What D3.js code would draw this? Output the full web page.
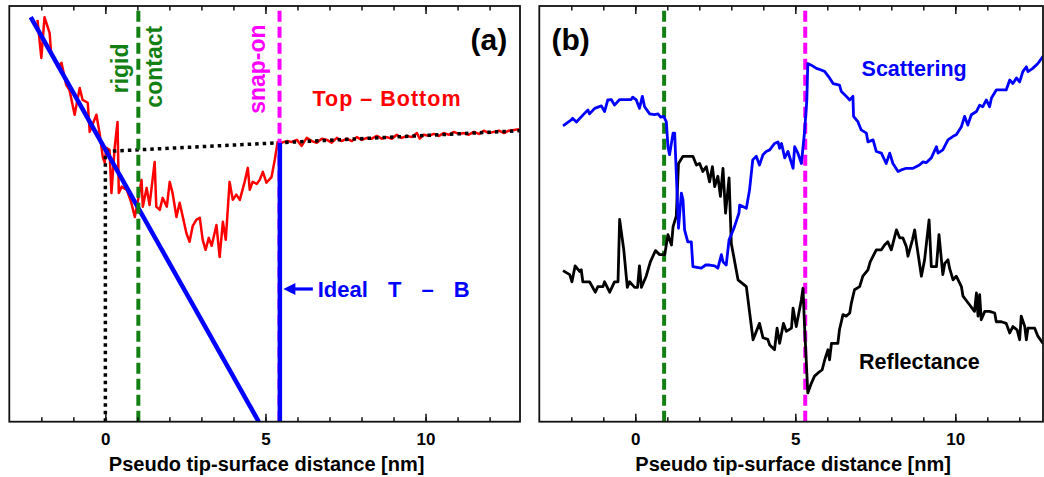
<!DOCTYPE html>
<html>
<head>
<meta charset="utf-8">
<script src="https://cdn.jsdelivr.net/npm/d3@7"></script>
<style>
  html, body { margin: 0; padding: 0; background: #fff; }
  svg { display: block; }
  text { font-family: "Liberation Sans", Arial, Helvetica, sans-serif; font-weight: bold; }
</style>
</head>
<body>
<svg id="chart" width="1044" height="477"></svg>
<script>
// ---- Panel (a): Top - Bottom signal vs. pseudo tip-surface distance (a.u.) ----
const distA = [-2.12, -2.00, -1.90, -1.74, -1.69, -1.58, -1.49, -1.37, -1.22, -1.12, -0.96, -0.80, -0.71, -0.55,
  -0.49, -0.28, -0.18, -0.08, -0.02, 0.03, 0.13, 0.19, 0.29, 0.38, 0.42, 0.51, 0.67, 0.81, 0.92, 1.01, 1.13,
  1.17, 1.29, 1.38, 1.54, 1.59, 1.70, 1.79, 1.92, 2.01, 2.10, 2.22, 2.32, 2.42, 2.53, 2.63, 2.73, 2.84, 2.95,
  3.04, 3.13, 3.23, 3.32, 3.47, 3.57, 3.67, 3.76, 3.88, 3.98, 4.09, 4.20, 4.35, 4.45, 4.51, 4.60, 4.73, 4.82,
  4.92, 5.03, 5.19, 5.29, 5.38, 5.50, 5.67, 5.82, 5.98, 6.13, 6.29, 6.45, 6.60, 6.76, 6.92, 7.07, 7.23, 7.38,
  7.54, 7.70, 7.85, 8.01, 8.17, 8.32, 8.48, 8.63, 8.79, 8.95, 9.10, 9.26, 9.42, 9.57, 9.73, 9.82, 9.95, 10.10,
  10.26, 10.42, 10.57, 10.73, 10.88, 11.04, 11.20, 11.35, 11.51, 11.67, 11.82, 11.98, 12.13, 12.29, 12.45,
  12.60, 12.76, 12.92];
const topMinusBottom = [50.25, 45.5, 50.6, 48.6, 45.9, 45.25, 44.4, 44.9, 42.1, 41.5, 38.4, 41.75, 40.25, 39.9,
  36.25, 38.4, 36.1, 33.1, 32.4, 34.25, 34.0, 28.6, 34.25, 37.5, 28.6, 29.4, 29.0, 27.4, 25.6, 27.5, 30.25,
  26.9, 29.25, 27.1, 32.5, 26.9, 26.5, 28.0, 26.9, 30.0, 28.6, 25.6, 27.4, 25.6, 23.6, 22.5, 24.5, 25.25, 25.5,
  22.75, 21.5, 23.0, 22.0, 24.6, 20.6, 25.0, 22.75, 30.0, 27.75, 28.4, 27.75, 30.0, 31.75, 29.0, 30.0, 29.75,
  30.25, 31.25, 29.9, 30.6, 32.75, 35.0, 34.9, 35.1, 35.0, 35.25, 34.5, 35.5, 35.1, 34.9, 35.4, 35.25, 34.9,
  35.5, 35.1, 35.4, 35.1, 35.6, 35.25, 35.5, 35.4, 35.75, 35.4, 35.6, 35.4, 35.9, 35.5, 35.75, 35.6, 36.1,
  35.4, 35.9, 35.75, 36.0, 35.75, 36.1, 35.9, 36.25, 36.0, 36.1, 35.9, 36.25, 36.0, 36.4, 36.1, 36.25, 36.4,
  36.1, 36.4, 36.5, 36.6];

// Ideal T - B: linear contact branch and the jump at snap-on
const idealContactDist = [-2.33, 4.79];
const idealContactSignal = [50.6, 0];
const idealSnapDist = [5.45, 5.45];
const idealSnapSignal = [0, 34.9];

// Dotted guides: extrapolated free baseline and zero-distance marker
const baselineDist = [0, 12.95];
const baselineSignal = [33.8, 36.4];
const zeroDist = [0, 0];
const zeroSignal = [0, 33.8];

// Event positions
const rigidContactA = 1.03, snapOnA = 5.44;
const rigidContactB = 0.9, snapOnB = 5.31;

// ---- Panel (b): optical signals (a.u.) ----
const scatDist = [-2.26, -2.00, -1.96, -1.84, -1.58, -1.48, -1.43, -1.27, -1.06, -0.96, -0.86, -0.75, -0.65,
  -0.49, -0.13, -0.08, 0.03, 0.13, 0.22, 0.29, 0.45, 0.60, 0.71, 0.79, 0.89, 0.97, 1.02, 1.07, 1.18, 1.23,
  1.35, 1.44, 1.49, 1.54, 1.64, 1.75, 1.80, 2.06, 2.20, 2.32, 2.48, 2.58, 2.69, 2.74, 2.84, 2.93, 3.00, 3.10,
  3.24, 3.26, 3.47, 3.57, 3.67, 3.78, 3.88, 3.99, 4.09, 4.20, 4.35, 4.46, 4.51, 4.57, 4.67, 4.77, 4.93, 4.98,
  5.08, 5.19, 5.29, 5.36, 5.39, 5.50, 5.66, 5.81, 5.92, 6.07, 6.18, 6.38, 6.44, 6.59, 6.70, 6.80, 6.82, 6.96,
  7.06, 7.22, 7.27, 7.43, 7.53, 7.69, 7.84, 7.95, 8.05, 8.21, 8.31, 8.47, 8.68, 8.88, 8.99, 9.09, 9.25, 9.41,
  9.46, 9.61, 9.77, 9.93, 10.03, 10.19, 10.29, 10.39, 10.50, 10.66, 10.76, 10.86, 10.97, 11.07, 11.13, 11.28,
  11.44, 11.59, 11.70, 11.80, 11.91, 12.01, 12.11, 12.22, 12.27, 12.42, 12.58, 12.74];
const scattering = [37.0, 37.75, 37.96, 37.5, 38.6, 39.0, 38.5, 39.2, 39.5, 38.8, 40.25, 40.3, 39.6, 40.3,
  40.3, 40.6, 40.25, 39.2, 40.7, 39.4, 38.5, 38.4, 38.5, 38.1, 38.2, 37.5, 34.4, 33.4, 36.1, 36.1, 24.2, 28.6,
  27.75, 24.0, 22.5, 22.5, 19.4, 19.2, 19.6, 19.6, 19.5, 19.2, 20.9, 20.0, 19.6, 22.75, 23.4, 24.4, 26.1, 27.1,
  26.7, 29.0, 32.75, 33.2, 32.1, 33.4, 33.8, 34.0, 34.8, 35.0, 34.2, 34.8, 33.0, 33.8, 31.7, 34.4, 33.6, 32.3,
  36.3, 40.25, 44.8, 44.6, 44.2, 44.0, 43.8, 43.0, 42.3, 42.1, 41.3, 40.7, 40.25, 40.7, 38.2, 37.5, 36.5, 36.1,
  35.0, 35.25, 33.8, 33.6, 32.3, 33.6, 32.3, 31.3, 31.5, 31.7, 31.7, 32.1, 32.5, 32.4, 33.0, 34.4, 33.6, 34.0,
  35.25, 35.7, 35.9, 36.9, 38.2, 37.1, 38.4, 38.8, 39.6, 39.4, 40.25, 39.4, 40.5, 41.5, 41.5, 41.5, 42.75, 42.3,
  43.0, 42.5, 43.8, 44.4, 43.8, 44.2, 44.8, 45.7];

const reflDist = [-2.26, -2.05, -1.98, -1.88, -1.74, -1.69, -1.64, -1.43, -1.25, -1.17, -1.01, -0.96, -0.80,
  -0.65, -0.54, -0.49, -0.36, -0.25, -0.18, -0.02, 0.07, 0.13, 0.19, 0.34, 0.47, 0.63, 0.76, 0.92, 1.02, 1.13,
  1.18, 1.28, 1.35, 1.49, 1.80, 1.91, 2.01, 2.11, 2.22, 2.32, 2.41, 2.48, 2.58, 2.66, 2.74, 2.82, 2.93, 3.00,
  3.21, 3.47, 3.68, 3.88, 3.99, 4.14, 4.20, 4.35, 4.43, 4.51, 4.63, 4.72, 4.88, 4.93, 5.03, 5.19, 5.24, 5.29,
  5.39, 5.50, 5.60, 5.71, 5.84, 5.92, 6.02, 6.07, 6.13, 6.33, 6.38, 6.49, 6.59, 6.70, 6.75, 6.85, 7.01, 7.11,
  7.27, 7.34, 7.53, 7.69, 7.79, 7.89, 8.00, 8.16, 8.26, 8.36, 8.47, 8.52, 8.66, 8.73, 8.78, 8.94, 9.04, 9.18,
  9.25, 9.41, 9.49, 9.61, 9.67, 9.77, 9.82, 9.93, 10.03, 10.19, 10.24, 10.45, 10.60, 10.66, 10.71, 10.76,
  10.81, 10.92, 11.07, 11.23, 11.28, 11.44, 11.59, 11.70, 11.80, 11.93, 12.01, 12.06, 12.17, 12.22, 12.27,
  12.48, 12.58, 12.74];
const reflectance = [18.9, 18.4, 17.5, 19.5, 18.8, 19.0, 17.5, 17.5, 16.2, 16.9, 16.9, 17.5, 16.2, 17.5, 17.5,
  25.3, 21.5, 16.8, 17.5, 16.8, 16.8, 19.5, 16.8, 18.2, 20.0, 21.4, 20.9, 20.9, 23.4, 22.1, 24.4, 25.7, 32.3,
  33.2, 33.2, 32.1, 32.3, 31.3, 31.9, 30.0, 31.9, 29.4, 30.7, 28.2, 31.7, 26.1, 30.5, 22.3, 17.75, 16.9, 10.25,
  12.3, 10.5, 10.3, 9.6, 9.0, 11.7, 9.8, 12.3, 11.3, 11.7, 14.2, 11.9, 15.25, 16.7, 11.9, 3.6, 4.8, 5.7, 6.1,
  6.5, 7.75, 9.0, 7.75, 9.8, 9.8, 11.5, 13.4, 13.2, 13.6, 14.8, 16.5, 16.9, 18.2, 19.0, 20.0, 21.5, 21.5, 22.1,
  22.5, 21.5, 24.0, 23.0, 23.0, 21.9, 20.7, 22.75, 24.0, 22.5, 18.2, 20.25, 25.25, 19.4, 19.4, 23.4, 18.4,
  19.8, 20.25, 19.2, 17.75, 18.2, 16.9, 15.7, 14.6, 13.8, 16.1, 13.2, 15.9, 12.75, 13.8, 13.8, 13.6, 12.5,
  12.5, 12.3, 11.1, 11.9, 11.5, 10.25, 13.2, 11.9, 10.25, 11.7, 11.7, 10.7, 9.8];

// Axis ticks
const majorTicks = [0, 5, 10];
const minorTicks = [-2, -1, 0, 1, 2, 3, 4, 5, 6, 7, 8, 9, 10, 11, 12];
const axisTitle = "Pseudo tip-surface distance [nm]";

// ---------------------------------------------------------------------------
const svg = d3.select("#chart");
const plotTop = 6, plotBottom = 421.7;
const y = d3.scaleLinear().domain([0, 52]).range([plotBottom, plotTop]);

const panels = [
  { id: "a", left: 9.3, right: 520, domain: [-3.0, 12.95] },
  { id: "b", left: 539.3, right: 1043, domain: [-3.0, 12.74] }
];

const GREEN = "#138013", MAGENTA = "#ff00ff", BLUE = "#0000ff", RED = "#ff0000";

function setupPanel(p) {
  const x = d3.scaleLinear().domain(p.domain).range([p.left, p.right]);
  const g = svg.append("g");
  svg.append("defs").append("clipPath").attr("id", "clip-" + p.id)
    .append("rect").attr("x", p.left).attr("y", plotTop)
    .attr("width", p.right - p.left).attr("height", plotBottom - plotTop);
  const plot = g.append("g").attr("clip-path", `url(#clip-${p.id})`);

  // minor + major ticks, bottom (labelled) and top (mirrored), pointing inward
  const minorB = d3.axisBottom(x).tickValues(minorTicks).tickSize(-4.5).tickFormat("");
  const majorB = d3.axisBottom(x).tickValues(majorTicks).tickSize(-8).tickPadding(11).tickFormat(d3.format("d"));
  const minorT = d3.axisTop(x).tickValues(minorTicks).tickSize(-4.5).tickFormat("");
  const majorT = d3.axisTop(x).tickValues(majorTicks).tickSize(-8).tickFormat("");
  [[minorB, plotBottom], [majorB, plotBottom], [minorT, plotTop], [majorT, plotTop]].forEach(([ax, yy]) => {
    const a = g.append("g").attr("transform", `translate(0,${yy})`).call(ax);
    a.select(".domain").remove();
    a.selectAll(".tick line").attr("stroke", "#111").attr("stroke-width", 1.5);
    a.selectAll(".tick text").attr("font-size", 17).attr("fill", "#000")
      .attr("font-family", "'Liberation Sans', Arial, sans-serif").attr("font-weight", "bold");
  });

  g.append("text").attr("x", (p.left + p.right) / 2 + 2).attr("y", 470.5)
    .attr("text-anchor", "middle").attr("font-size", 20).attr("fill", "#000").text(axisTitle);

  return { x, g, plot };
}

const line = (x, xs, ys) => d3.line().x((d, i) => x(xs[i])).y((d, i) => y(ys[i]))(xs);

function vDash(plot, x, pos, color) {
  plot.append("line").attr("x1", x(pos)).attr("x2", x(pos)).attr("y1", y(51.4)).attr("y2", y(0))
    .attr("stroke", color).attr("stroke-width", 4).attr("stroke-dasharray", "11,5");
}

// ---- Panel (a) ----
{
  const p = panels[0];
  const { x, g, plot } = setupPanel(p);
  plot.append("path").attr("d", line(x, distA, topMinusBottom))
    .attr("fill", "none").attr("stroke", RED).attr("stroke-width", 2.5).attr("stroke-linejoin", "round");
  [[baselineDist, baselineSignal], [zeroDist, zeroSignal]].forEach(([xs, ys]) => {
    plot.append("path").attr("d", line(x, xs, ys)).attr("fill", "none")
      .attr("stroke", "#000").attr("stroke-width", 3.5).attr("stroke-dasharray", "3.5,4");
  });
  plot.append("path").attr("d", line(x, idealContactDist, idealContactSignal))
    .attr("fill", "none").attr("stroke", BLUE).attr("stroke-width", 4.5);
  vDash(plot, x, rigidContactA, GREEN);
  vDash(plot, x, snapOnA, MAGENTA);
  plot.append("path").attr("d", line(x, idealSnapDist, idealSnapSignal))
    .attr("fill", "none").attr("stroke", BLUE).attr("stroke-width", 4.5);

  // arrow pointing at the ideal snap-on jump
  const ay = y(16.6), tip = x(5.56), tail = x(6.48);
  g.append("line").attr("x1", tip + 8).attr("x2", tail).attr("y1", ay).attr("y2", ay)
    .attr("stroke", BLUE).attr("stroke-width", 3.2);
  g.append("path").attr("d", `M${tip},${ay} l12,-6 l0,12 z`).attr("fill", BLUE);

  g.append("text").attr("x", x(6.63)).attr("y", y(15.6)).attr("font-size", 22).attr("fill", BLUE)
    .attr("word-spacing", 14).attr("xml:space", "preserve").text("Ideal T \u2013 B");
  g.append("text").attr("x", x(6.47)).attr("y", y(39.5)).attr("font-size", 21.5).attr("fill", RED)
    .attr("textLength", 148).text("Top \u2013 Bottom");
  g.append("text").attr("x", x(12.55)).attr("y", y(46.5)).attr("font-size", 30).attr("fill", "#000")
    .attr("text-anchor", "end").text("(a)");

  const rot = (xx, yy, txt, color) => g.append("text")
    .attr("transform", `translate(${x(xx)},${y(yy)}) rotate(-90)`)
    .attr("text-anchor", "middle").attr("font-size", 23).attr("fill", color).text(txt);
  rot(0.72, 44.2, "rigid", GREEN);
  rot(1.76, 44.4, "contact", GREEN);
  rot(5.0, 44.1, "snap-on", MAGENTA);

  g.append("rect").attr("x", p.left).attr("y", plotTop)
    .attr("width", p.right - p.left).attr("height", plotBottom - plotTop)
    .attr("fill", "none").attr("stroke", "#111").attr("stroke-width", 1.8);
}

// ---- Panel (b) ----
{
  const p = panels[1];
  const { x, g, plot } = setupPanel(p);
  vDash(plot, x, rigidContactB, GREEN);
  vDash(plot, x, snapOnB, MAGENTA);
  plot.append("path").attr("d", line(x, reflDist, reflectance))
    .attr("fill", "none").attr("stroke", "#000").attr("stroke-width", 2.8).attr("stroke-linejoin", "round");
  plot.append("path").attr("d", line(x, scatDist, scattering))
    .attr("fill", "none").attr("stroke", BLUE).attr("stroke-width", 2.8).attr("stroke-linejoin", "round");

  g.append("text").attr("x", x(7.07)).attr("y", y(43.2)).attr("font-size", 21.5).attr("fill", BLUE).text("Scattering");
  g.append("text").attr("x", x(6.99)).attr("y", y(6.55)).attr("font-size", 21.5).attr("fill", "#000").text("Reflectance");
  g.append("text").attr("x", x(-2.62)).attr("y", y(46.5)).attr("font-size", 30).attr("fill", "#000").text("(b)");

  g.append("rect").attr("x", p.left).attr("y", plotTop)
    .attr("width", p.right - p.left).attr("height", plotBottom - plotTop)
    .attr("fill", "none").attr("stroke", "#111").attr("stroke-width", 1.8);
}
</script>
</body>
</html>
